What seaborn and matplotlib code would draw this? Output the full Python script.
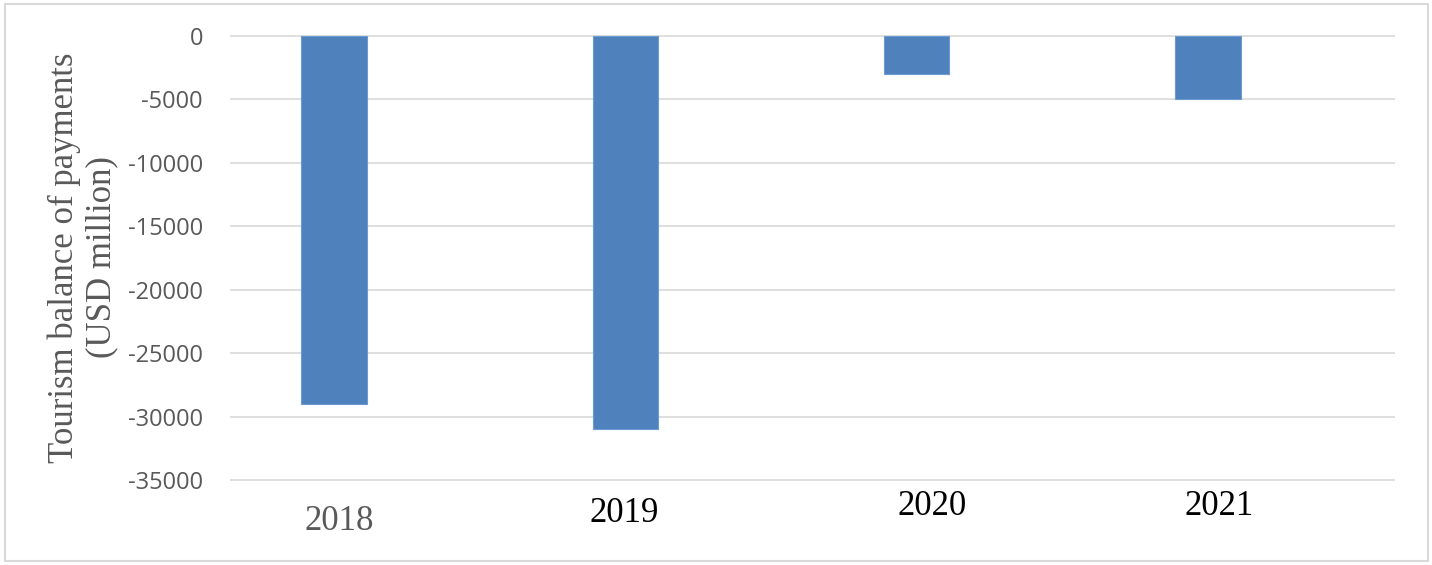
import matplotlib
matplotlib.use("Agg")
import matplotlib.pyplot as plt
import matplotlib.transforms as mtransforms
from matplotlib.patches import Rectangle
import seaborn as sns
import pandas as pd

# ---- data ----
years = ["2018", "2019", "2020", "2021"]
balance = [-29000, -31000, -3000, -5000]
yticks = [0, -5000, -10000, -15000, -20000, -25000, -30000, -35000]
ylabel_text = "Tourism balance of payments\n(USD million)"

# per-label styling (colour, pixel offsets)
label_colors = ["#595959", "#000000", "#000000", "#000000"]
label_dx_px = [5, -1, 15, 11]
label_dy_px = [46, 38, 31, 31]

sns.set_theme(style="white")

W, H = 1432, 565
fig = plt.figure(figsize=(W / 100, H / 100), dpi=100)
ax = fig.add_axes([230 / W, 0.1437, 1165 / W, 0.7998])

df = pd.DataFrame({"year": years, "balance": balance})
sns.barplot(data=df, x="year", y="balance", color="#4F81BD", saturation=1,
            width=0.225, edgecolor="#6C9AD3", linewidth=0.8, ax=ax, zorder=3)

ax.set_ylim(-35300, 300)
ax.set_xlim(-0.357, 3.642)
ax.set_yticks(yticks)
ax.set_yticklabels([str(v) for v in yticks], fontfamily="Open Sans",
                   fontsize=17, color="#595959")
ax.tick_params(axis="y", length=0, pad=19.5)
ax.tick_params(axis="x", length=0)
ax.set_xticklabels([])
ax.grid(axis="y", color="#D9D9D9", linewidth=1.2, zorder=0)
ax.grid(axis="x", visible=False)
for s in ax.spines.values():
    s.set_visible(False)
ax.set_xlabel("")
ax.set_ylabel("")

# category labels
for i, yr in enumerate(years):
    tr = ax.get_xaxis_transform() + mtransforms.ScaledTranslation(
        label_dx_px[i] / 100, -label_dy_px[i] / 100, fig.dpi_scale_trans)
    ax.text(i, 0, yr, transform=tr, ha="center", va="baseline",
            fontfamily="Liberation Serif", fontsize=25, color=label_colors[i])

# y axis title
fig.text(83 / W, 1 - 257.5 / H, ylabel_text, rotation=90, ha="center",
         va="center", multialignment="center", fontfamily="Liberation Serif",
         fontsize=25, color="#595959", linespacing=1.2)

# outer border
fig.patches.append(Rectangle((5 / W, 4 / H), 1423 / W, 557 / H,
                             transform=fig.transFigure, fill=False,
                             edgecolor="#D9D9D9", linewidth=1.5))

fig.savefig("out.png", dpi=100)
